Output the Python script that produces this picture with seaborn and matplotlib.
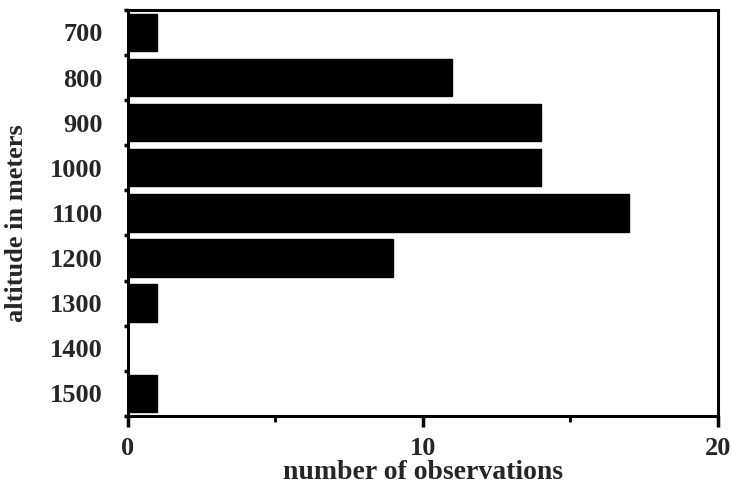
import matplotlib
matplotlib.use("Agg")
import matplotlib.pyplot as plt
import seaborn as sns
import pandas as pd
from matplotlib.ticker import FixedLocator, MultipleLocator

altitudes = ["700", "800", "900", "1000", "1100", "1200", "1300", "1400", "1500"]
observations = [1, 11, 14, 14, 17, 9, 1, 0, 1]
x_ticks = [0, 10, 20]

sns.set_theme(style="white")
plt.rcParams['font.family'] = ['Liberation Serif', 'DejaVu Serif']
plt.rcParams['font.weight'] = 'bold'

df = pd.DataFrame({"altitude": altitudes, "count": observations})

fig = plt.figure(figsize=(7.31, 4.95), dpi=100)
ax = fig.add_axes([0.175, 0.160, 0.807, 0.820])

sns.barplot(data=df, y="altitude", x="count", order=altitudes, orient="h",
            color="black", width=0.83, saturation=1, ax=ax)
for p in ax.patches:
    p.set_edgecolor("black")

ax.set_xlim(0, 20)
ax.set_ylim(len(altitudes) - 0.5, -0.5)
ax.set_xticks(x_ticks)
ax.set_xticklabels([str(t) for t in x_ticks], fontsize=19, fontweight="bold")
ax.xaxis.set_minor_locator(MultipleLocator(5))
ax.set_yticks(range(len(altitudes)))
ax.set_yticklabels(altitudes, fontsize=19, fontweight="bold")
ax.yaxis.set_minor_locator(FixedLocator([i + 0.5 for i in range(-1, len(altitudes))]))

ax.tick_params(axis="x", which="major", direction="out", length=8, width=2.5, pad=7, color="black", bottom=True)
ax.tick_params(axis="x", which="minor", direction="out", length=4, width=2, color="black", bottom=True)
ax.tick_params(axis="y", which="major", length=0, pad=18)
ax.tick_params(axis="y", which="minor", direction="out", length=3, width=2.5, color="black", left=True)

for s in ax.spines.values():
    s.set_visible(True)
    s.set_color("black")
    s.set_linewidth(2.2)

ax.set_xlabel("number of observations", fontsize=20, fontweight="bold", labelpad=0)
ax.set_ylabel("altitude in meters", fontsize=19, fontweight="bold")
ax.yaxis.set_label_coords(-0.17, 0.475)
ax.grid(False)

fig.savefig("out.png", dpi=100, facecolor="white")
